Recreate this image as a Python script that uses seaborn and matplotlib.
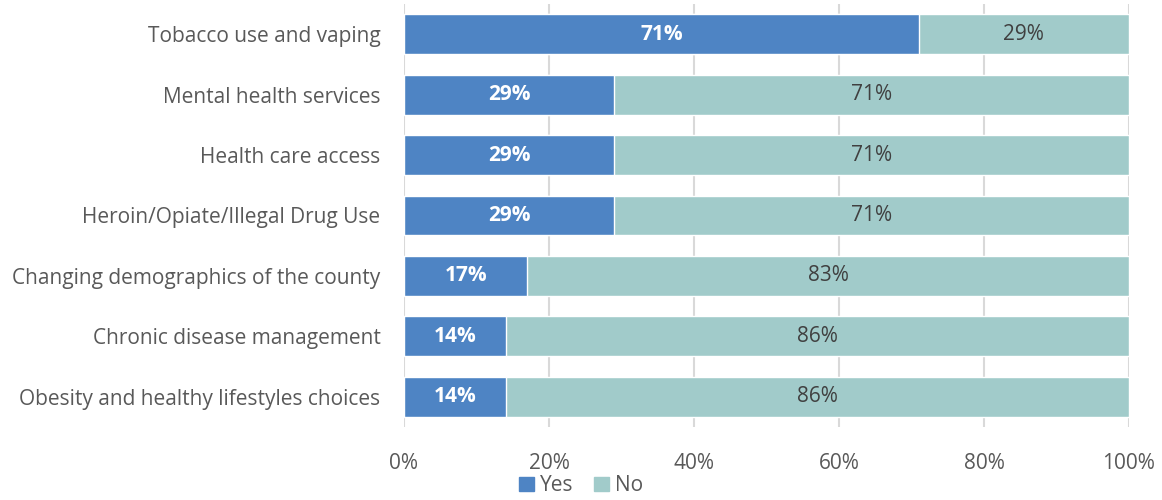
import pandas as pd
import matplotlib.pyplot as plt
import seaborn as sns
from matplotlib.patches import Patch

categories = [
    'Tobacco use and vaping',
    'Mental health services',
    'Health care access',
    'Heroin/Opiate/Illegal Drug Use',
    'Changing demographics of the county',
    'Chronic disease management',
    'Obesity and healthy lifestyles choices',
]
yes_pct = [71, 29, 29, 29, 17, 14, 14]
no_pct = [29, 71, 71, 71, 83, 86, 86]
x_ticks = [0, 20, 40, 60, 80, 100]

YES_COLOR = '#4E84C4'
NO_COLOR = '#A1CBCA'
TEXT_COLOR = '#595959'
FS = 15

sns.set_theme(style='white')
plt.rcParams['font.family'] = ['Open Sans', 'DejaVu Sans']

df = pd.DataFrame({'category': categories, 'Yes': yes_pct, 'No': no_pct})
df['total'] = df['Yes'] + df['No']

fig = plt.figure(figsize=(11.62, 5), dpi=100)
ax = fig.add_axes([404 / 1162, 0.146, (1129 - 404) / 1162, 0.846])

# stacked: draw the full bar in the "No" colour, then the "Yes" part on top
sns.barplot(data=df, y='category', x='total', color=NO_COLOR, orient='h',
            width=0.66, ax=ax, saturation=1, zorder=2)
sns.barplot(data=df, y='category', x='Yes', color=YES_COLOR, orient='h',
            width=0.66, ax=ax, saturation=1, zorder=3)

for i, (y, n) in enumerate(zip(yes_pct, no_pct)):
    ax.text(y / 2, i, f'{y}%', ha='center', va='center', color='white',
            fontsize=FS, fontweight='bold', zorder=4)
    ax.text(y + n / 2, i, f'{n}%', ha='center', va='center', color='#404040',
            fontsize=FS, zorder=4)

ax.set_xlim(0, 100)
ax.set_ylim(6.5, -0.5)
ax.set_xticks(x_ticks)
ax.set_xticklabels([f'{t}%' for t in x_ticks])
ax.set_xlabel('')
ax.set_ylabel('')
ax.xaxis.grid(True, color='#D9D9D9', linewidth=1.5, zorder=0)
ax.set_axisbelow(True)
for s in ax.spines.values():
    s.set_visible(False)
ax.tick_params(axis='x', length=0, pad=19, labelsize=FS, labelcolor=TEXT_COLOR)
ax.tick_params(axis='y', length=0, pad=17, labelsize=FS, labelcolor=TEXT_COLOR)

handles = [Patch(color=YES_COLOR, label='Yes'), Patch(color=NO_COLOR, label='No')]
leg = fig.legend(handles=handles, loc='lower center', bbox_to_anchor=(0.5, -0.03),
                 ncol=2, frameon=False, fontsize=FS, handlelength=0.7,
                 handleheight=0.7, handletextpad=0.3, columnspacing=1.0)
for t in leg.get_texts():
    t.set_color(TEXT_COLOR)

fig.savefig('out.png', dpi=100)
